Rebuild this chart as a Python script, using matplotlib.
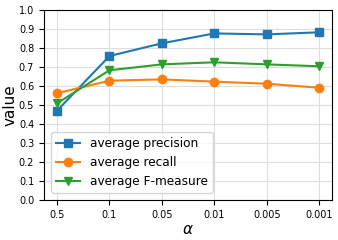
import matplotlib
matplotlib.use('Agg')
import matplotlib.pyplot as plt
import numpy as np

alphas = ['0.5', '0.1', '0.05', '0.01', '0.005', '0.001']
precision = [0.470, 0.758, 0.825, 0.877, 0.872, 0.883]
recall = [0.562, 0.628, 0.635, 0.623, 0.612, 0.591]
fmeasure = [0.509, 0.683, 0.714, 0.725, 0.714, 0.704]

x = np.arange(len(alphas))
fig, ax = plt.subplots(figsize=(3.38, 2.4), dpi=100)
ax.plot(x, precision, marker='s', color='#1f77b4', label='average precision')
ax.plot(x, recall, marker='o', color='#ff7f0e', label='average recall')
ax.plot(x, fmeasure, marker='v', color='#2ca02c', label='average F-measure')
ax.set_xticks(x)
ax.set_xticklabels(alphas)
ax.set_ylim(0, 1.0)
ax.set_yticks(np.arange(0, 1.01, 0.1))
ax.tick_params(labelsize=7)
ax.set_xlabel(r'$\alpha$', fontsize=11, labelpad=2)
ax.set_ylabel('value', fontsize=11, labelpad=1)
ax.grid(True, color='#dddddd')
ax.legend(loc='lower left', fontsize=8.7, handlelength=2, borderaxespad=0.6)
plt.subplots_adjust(left=0.13, right=0.983, top=0.958, bottom=0.167)
plt.savefig('out.png', dpi=100)
